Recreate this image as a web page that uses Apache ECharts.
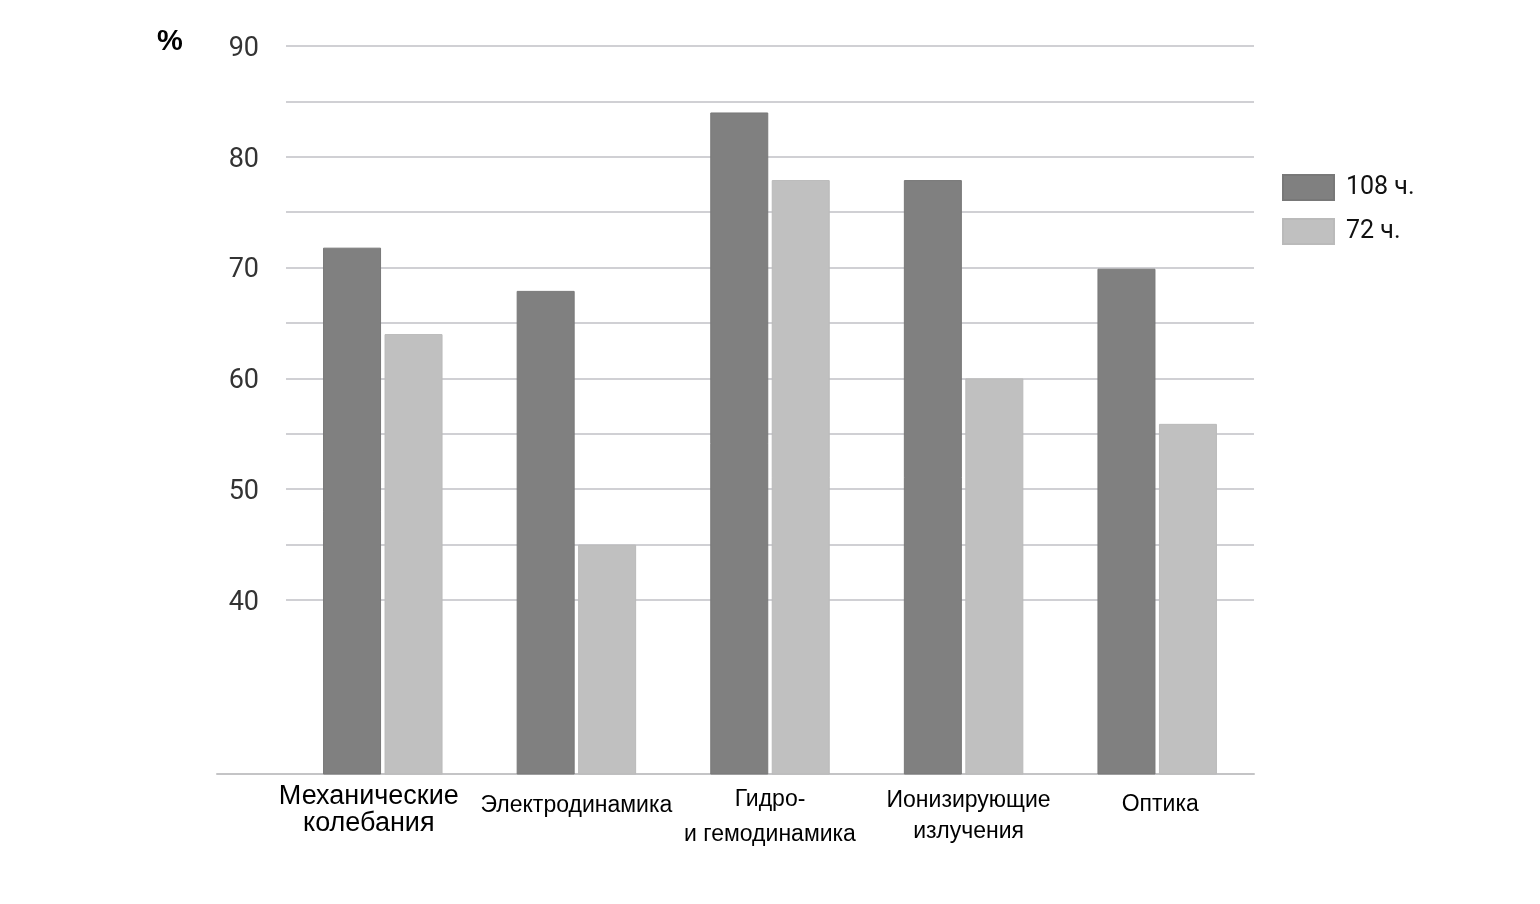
<!DOCTYPE html>
<html>
<head>
<meta charset="utf-8">
<title>Результаты</title>
<script src="https://cdn.jsdelivr.net/npm/echarts@6/dist/echarts.min.js"></script>
<style>
  html, body { margin: 0; padding: 0; background: #fff; }
  #chart { width: 1540px; height: 904px; }
</style>
</head>
<body>
<div id="chart"></div>
<script>
// данные
const categories = ['Механические\nколебания', 'Электродинамика', 'Гидро-\nи гемодинамика', 'Ионизирующие\nизлучения', 'Оптика']
const seriesNames = ['108 ч.', '72 ч.']
const values108 = [71.8, 67.9, 84, 77.9, 69.9]
const values72 = [64, 45, 77.9, 60, 55.9]
const yTicks = [40, 50, 60, 70, 80, 90]

// стиль подписей по оси X (у каждой своя высота строки и отступ)
const labelStyles = [
  { fontSize: 27, lineHeight: 27, padding: [1, 28, 0, 0] },
  { fontSize: 23, lineHeight: 24, padding: [12, 0, 0, 0] },
  { fontSize: 23, lineHeight: 35, padding: [0, 0, 0, 0] },
  { fontSize: 23, lineHeight: 31, padding: [3, 0, 0, 10] },
  { fontSize: 23, lineHeight: 24, padding: [11, 0, 0, 6] },
]

const chart = echarts.init(document.getElementById('chart'))

const option = {
  backgroundColor: '#ffffff',
  animation: false,
  title: {
    text: '%',
    left: 152,
    top: 22,
    textStyle: { fontSize: 29, fontWeight: 'bold', color: '#000', fontFamily: 'Liberation Sans' },
  },
  legend: {
    orient: 'vertical',
    left: 1277,
    top: 169,
    icon: 'rect',
    itemWidth: 51,
    itemHeight: 25,
    itemGap: 17,
    data: seriesNames,
    textStyle: { fontSize: 25, color: '#111', fontFamily: 'Roboto', padding: [0, 0, 0, 7] },
  },
  grid: [
    // столбцы
    { left: 286, right: 286, top: 46, bottom: 130 },
    // сетка и подписи оси Y (от 40 до 90)
    { left: 286, right: 286, top: 46, bottom: 304 },
    // продолжение базовой линии влево
    { left: 217, width: 69, top: 46, bottom: 130 },
  ],
  xAxis: [
    {
      type: 'category',
      gridIndex: 0,
      data: categories.map((c, i) => ({ value: c, textStyle: labelStyles[i] })),
      axisLine: { lineStyle: { color: '#c4c4c6', width: 2 } },
      axisTick: { show: false },
      axisLabel: { margin: 8, color: '#000', fontFamily: 'Liberation Sans', interval: 0 },
    },
    { type: 'value', gridIndex: 1, show: false },
    {
      type: 'category',
      gridIndex: 2,
      data: [''],
      axisLine: { lineStyle: { color: '#c4c4c6', width: 2 } },
      axisTick: { show: false },
      axisLabel: { show: false },
    },
  ],
  yAxis: [
    { type: 'value', gridIndex: 0, min: 24.3, max: 90, show: false },
    {
      type: 'value',
      gridIndex: 1,
      min: 40,
      max: 90,
      interval: 5,
      axisLine: { show: false },
      axisTick: { show: false },
      splitLine: { lineStyle: { color: '#d0d0d4', width: 2 } },
      axisLabel: {
        margin: 27,
        color: '#333',
        fontFamily: 'Roboto',
        formatter: (v) => (yTicks.includes(v) ? '{v|' + v + '}' : ''),
        rich: {
          v: { fontSize: 27, color: '#333', fontFamily: 'Roboto', padding: [6, 0, 0, 0] },
        },
      },
    },
    { type: 'value', gridIndex: 2, min: 0, max: 1, show: false },
  ],
  series: [
    {
      name: seriesNames[0],
      type: 'bar',
      xAxisIndex: 0,
      yAxisIndex: 0,
      data: values108,
      barWidth: 58,
      barGap: '6%',
      itemStyle: { color: '#808080', borderColor: '#787878', borderWidth: 1 },
      z: 3,
    },
    {
      name: seriesNames[1],
      type: 'bar',
      xAxisIndex: 0,
      yAxisIndex: 0,
      data: values72,
      barWidth: 58,
      itemStyle: { color: '#c0c0c0', borderColor: '#bababa', borderWidth: 1 },
      z: 3,
    },
  ],
}

chart.setOption(option)
</script>
</body>
</html>
